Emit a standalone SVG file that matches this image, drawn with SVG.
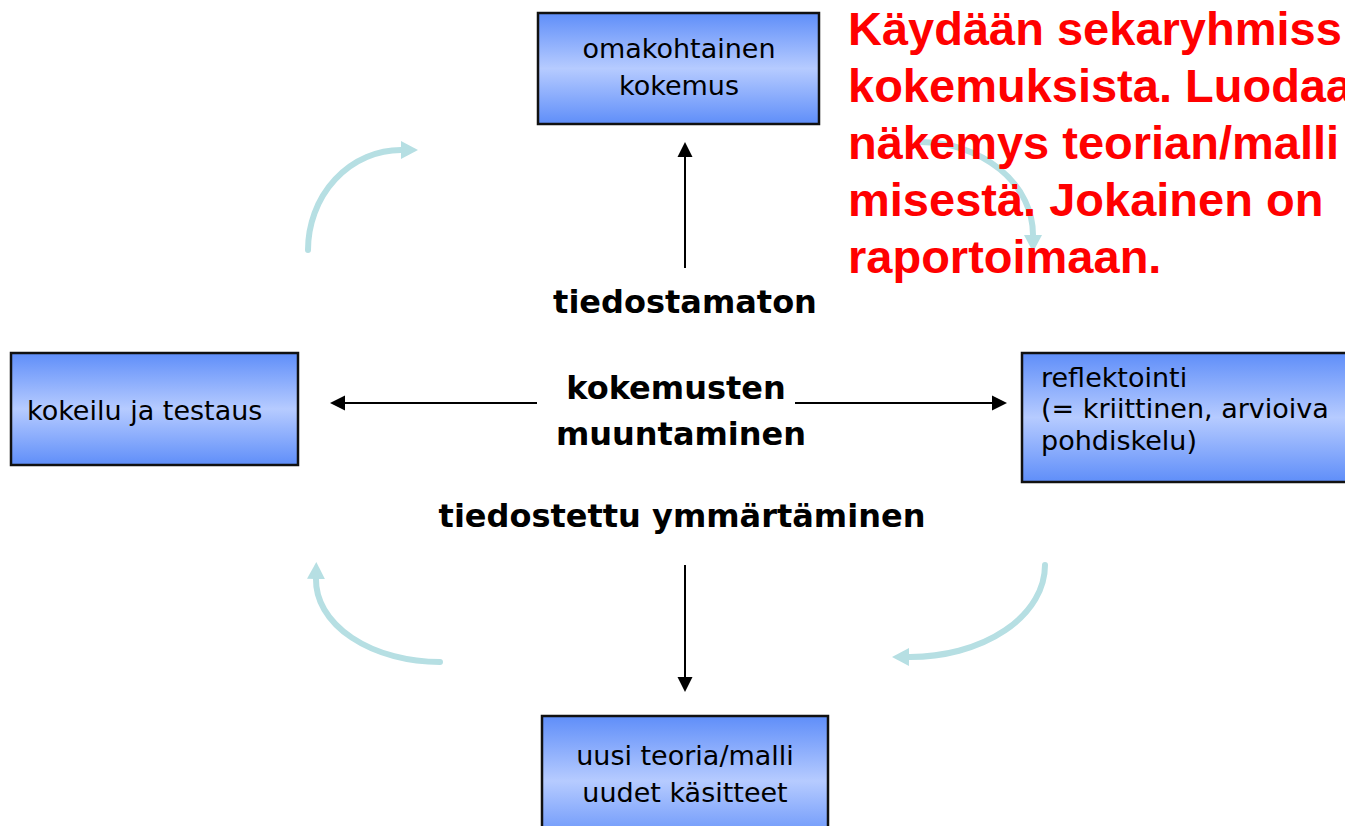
<svg xmlns="http://www.w3.org/2000/svg" width="1345" height="826" viewBox="0 0 1345 826">
  <defs>
    <linearGradient id="boxFill" x1="0" y1="0" x2="0" y2="1">
      <stop offset="0" stop-color="#5f8ef9"/>
      <stop offset="0.5" stop-color="#b6cbff"/>
      <stop offset="1" stop-color="#5f8ef9"/>
    </linearGradient>
    <marker id="head" markerUnits="userSpaceOnUse" markerWidth="16" markerHeight="16" viewBox="0 0 16 16" refX="0" refY="8" orient="auto">
      <path d="M0,0.5 L15,8 L0,15.5 z" fill="#000"/>
    </marker>
    <marker id="cycleHead" markerUnits="userSpaceOnUse" markerWidth="18" markerHeight="20" viewBox="0 0 18 20" refX="0" refY="10" orient="auto">
      <path d="M0,1 L17,10 L0,19 z" fill="#b6dfe3"/>
    </marker>
  </defs>
  <style>
    .box { fill: url(#boxFill); stroke: #111; stroke-width: 2.5; }
    .boxText { font-family: "DejaVu Sans", Verdana, sans-serif; font-size: 27px; fill: #000; }
    .label { font-family: "DejaVu Sans", Verdana, sans-serif; font-weight: bold; font-size: 32px; fill: #000; text-anchor: middle; }
    .note { font-family: "Liberation Sans", Arial, sans-serif; font-weight: bold; font-size: 47px; fill: #ff0000; }
    .link { stroke: #000; stroke-width: 2; fill: none; marker-end: url(#head); }
    .cycle { stroke: #b6dfe3; stroke-width: 6; fill: none; stroke-linecap: round; marker-end: url(#cycleHead); }
  </style>
  <rect width="1345" height="826" fill="#fff"/>

  <!-- cycle arrows around the centre -->
  <g id="cycle">
    <path class="cycle" d="M308,250 A93,100 0 0 1 401,150"/>
    <path class="cycle" d="M920,142 A113,93 0 0 1 1033,235"/>
    <path class="cycle" d="M1045,565 A135,92 0 0 1 909,657"/>
    <path class="cycle" d="M440,662 A124,82 0 0 1 316,579"/>
  </g>

  <!-- instruction text -->
  <g id="note">
    <text class="note" x="848" y="45">Käydään sekaryhmiss</text>
    <text class="note" x="848" y="102">kokemuksista. Luodaa</text>
    <text class="note" x="848" y="159">näkemys teorian/malli</text>
    <text class="note" x="848" y="216">misestä. Jokainen on</text>
    <text class="note" x="848" y="273">raportoimaan.</text>
  </g>

  <!-- connectors from the centre -->
  <g id="connectors">
    <line class="link" x1="685" y1="268" x2="685" y2="157"/>
    <line class="link" x1="685" y1="565" x2="685" y2="677"/>
    <line class="link" x1="537" y1="403" x2="345" y2="403"/>
    <line class="link" x1="795" y1="403" x2="992" y2="403"/>
  </g>

  <!-- centre labels -->
  <g id="centre">
    <text class="label" x="685" y="313">tiedostamaton</text>
    <text class="label" x="676" y="399">kokemusten</text>
    <text class="label" x="681" y="445">muuntaminen</text>
    <text class="label" x="682" y="527">tiedostettu ymmärtäminen</text>
  </g>

  <g id="node-kokemus">
    <rect class="box" x="538" y="13" width="281" height="111"/>
    <text class="boxText" x="679" y="58" text-anchor="middle">omakohtainen</text>
    <text class="boxText" x="679" y="95" text-anchor="middle">kokemus</text>
  </g>

  <g id="node-kokeilu">
    <rect class="box" x="11" y="353" width="287" height="112"/>
    <text class="boxText" x="27" y="420">kokeilu ja testaus</text>
  </g>

  <g id="node-reflektointi">
    <rect class="box" x="1022" y="353" width="340" height="129"/>
    <text class="boxText" x="1041" y="387">reflektointi</text>
    <text class="boxText" x="1041" y="418">(= kriittinen, arvioiva</text>
    <text class="boxText" x="1041" y="450">pohdiskelu)</text>
  </g>

  <g id="node-teoria">
    <rect class="box" x="542" y="716" width="286" height="130"/>
    <text class="boxText" x="685" y="765" text-anchor="middle">uusi teoria/malli</text>
    <text class="boxText" x="685" y="802" text-anchor="middle">uudet käsitteet</text>
  </g>
</svg>
